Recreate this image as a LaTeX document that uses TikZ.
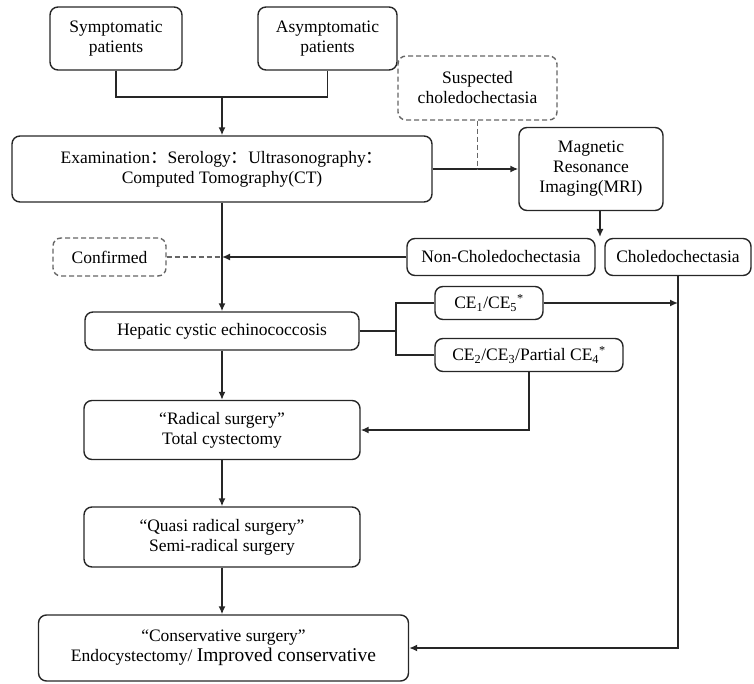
\documentclass[tikz,border=0pt]{standalone}
\usepackage{fontspec}
\setmainfont{Liberation Serif}
\newfontfamily\cjk{Noto Sans CJK SC}
\usetikzlibrary{arrows.meta}
\usetikzlibrary{calc}

\newcommand{\fwcolon}{{\cjk ：}}

\begin{document}
\begin{tikzpicture}[x=1pt, y=-1pt, >={Latex[length=8pt,width=7pt]},
  box/.style={draw=black!85, rounded corners=8pt, line width=1.4pt, align=center,
              inner sep=0pt, font=\fontsize{17.5}{20}\selectfont},
  dbox/.style={box, draw=black!60, dash pattern=on 5pt off 3pt},
  link/.style={line width=1.5pt, black!85},
  dlink/.style={line width=1.4pt, black!60, dash pattern=on 5pt off 3pt}]

\useasboundingbox (0,0) rectangle (754,684);

%---------------------------------------
% Patients and examination
%---------------------------------------
\node[box, minimum width=132, minimum height=63] (symp) at (116,38.5) {Symptomatic\\patients};
\node[box, minimum width=139, minimum height=63] (asym) at (327.5,38.5) {Asymptomatic\\patients};

\node[box, minimum width=420, minimum height=66] (exam) at (222,169)
  {Examination\fwcolon Serology\fwcolon Ultrasonography\fwcolon\\Computed Tomography(CT)};

\node[dbox, minimum width=159, minimum height=64] (susp) at (477.5,88) {Suspected\\choledochectasia};
\node[box, minimum width=144, minimum height=83] (mri) at (591,169) {Magnetic\\Resonance\\Imaging(MRI)};

%---------------------------------------
% MRI result
%---------------------------------------
\node[box, minimum width=188, minimum height=37] (nonch) at (501,257) {Non-Choledochectasia};
\node[box, minimum width=146, minimum height=37] (chol) at (678,257) {Choledochectasia};
\node[dbox, minimum width=113, minimum height=38] (conf) at (109.5,257) {Confirmed};

%---------------------------------------
% Diagnosis and surgery
%---------------------------------------
\node[box, minimum width=274, minimum height=38] (hep) at (222,331) {Hepatic cystic echinococcosis};
\node[box, minimum width=108, minimum height=33] (ce15) at (489,303)
  {CE\textsubscript{1}/CE\textsubscript{5}\textsuperscript{*}};
\node[box, minimum width=188, minimum height=33] (ce234) at (529,355)
  {CE\textsubscript{2}/CE\textsubscript{3}/Partial CE\textsubscript{4}\textsuperscript{*}};

\node[box, minimum width=276, minimum height=59] (rad) at (222,430) {``Radical surgery''\\Total cystectomy};
\node[box, minimum width=276, minimum height=60] (quasi) at (222,537) {``Quasi radical surgery''\\Semi-radical surgery};
\node[box, minimum width=370, minimum height=66] (cons) at (223.5,648)
  {``Conservative surgery''\\Endocystectomy/ {\fontsize{19.5}{20}\selectfont Improved conservative}};

% Connectors
\coordinate (merge) at (222,97);
\draw[link] (symp.south) |- (merge) -| (asym.south);
\draw[link,->] (merge) -- (exam.north);

\draw[link,->] (exam.east) -- (exam.east -| mri.west);
\coordinate (tap) at (susp.south |- exam.east);
\draw[dlink] (susp.south) -- (tap);

\coordinate (gap) at (600,237);
\draw[link,->] (mri.south -| gap) -- (gap);

\coordinate (hit) at (exam.south |- nonch.west);
\draw[link,->] (nonch.west) -- (hit);
\draw[dlink] (conf.east) -- (hit);
\draw[link,->] (exam.south) -- (hep.north);

\coordinate (fork) at (396,331);
\draw[link] (hep.east) -- (fork);
\draw[link] (ce15.west) -| (fork) |- (ce234.west);

\draw[link,->] (ce15.east) -- (ce15.east -| chol.south);
\draw[link,->] (ce234.south) |- (rad.east);
\draw[link,->] (chol.south) |- (cons.east);

\draw[link,->] (hep.south) -- (rad.north);
\draw[link,->] (rad.south) -- (quasi.north);
\draw[link,->] (quasi.south) -- (quasi.south |- cons.north);

\end{tikzpicture}
\end{document}
